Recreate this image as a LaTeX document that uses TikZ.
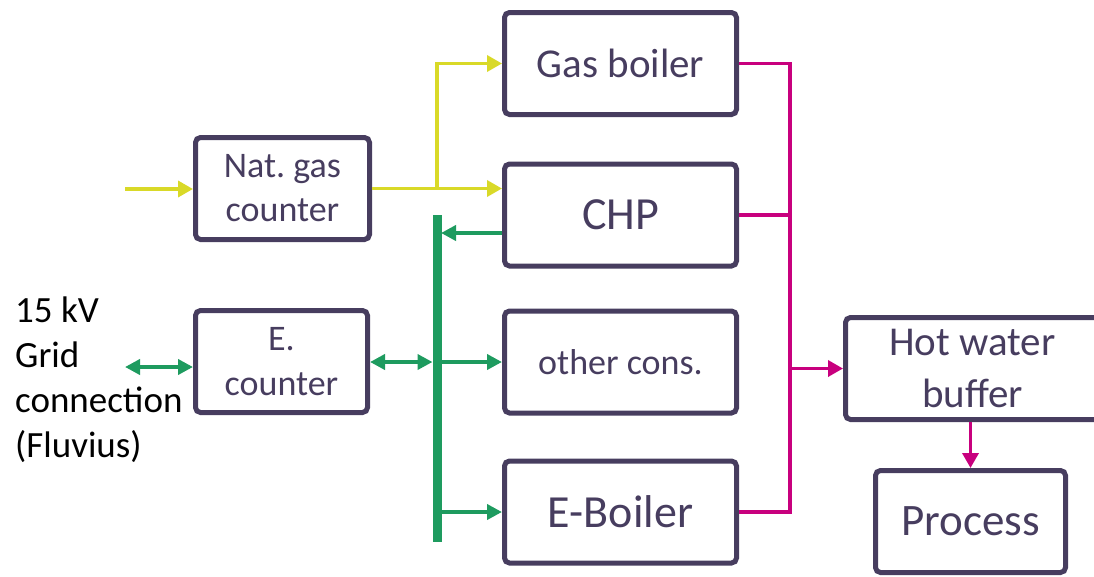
\documentclass[tikz,border=0pt]{standalone}
\usepackage{fontspec}
\setmainfont{Carlito}
\usetikzlibrary{arrows.meta}
\definecolor{boxc}{HTML}{473D5F}
\definecolor{grnc}{HTML}{1E9B5F}
\definecolor{yelc}{HTML}{D9D928}
\definecolor{magc}{HTML}{C8007E}
\tikzset{
  blk/.style={draw=boxc, line width=5pt, rounded corners=5pt, inner sep=0pt,
    text=boxc, align=center, minimum height=102pt},
  yel/.style={draw=yelc, line width=3.5pt, -{Triangle[length=15pt,width=16pt]}},
  grn/.style={draw=grnc, line width=4pt, -{Triangle[length=15pt,width=15pt]}},
  grnboth/.style={draw=grnc, line width=4pt, {Triangle[length=15pt,width=15pt]}-{Triangle[length=15pt,width=15pt]}},
  busline/.style={draw=grnc, line width=9pt},
  mag/.style={draw=magc, line width=3.5pt},
  magarr/.style={draw=magc, line width=3.5pt, -{Triangle[length=15pt,width=16pt]}},
}
\begin{document}
\begin{tikzpicture}[x=1pt,y=-1pt]
\useasboundingbox (0,0) rectangle (1094,576);
\clip (0,0) rectangle (1094,576);

% boxes
\node[blk, minimum width=174pt, font=\fontsize{36}{44}\selectfont] (nat) at (282.5,188.5) {Nat.\ gas\\counter};
\node[blk, minimum width=172pt, font=\fontsize{36}{45}\selectfont] (ecnt) at (281.5,361.5) {E.\\counter};
\node[blk, minimum width=232pt, font=\fontsize{41}{48}\selectfont] (gasb) at (620.5,63.5) {Gas boiler};
\node[blk, minimum width=232pt, font=\fontsize{46}{54}\selectfont] (chp) at (620.5,215) {CHP};
\node[blk, minimum width=232pt, font=\fontsize{36}{44}\selectfont] (other) at (620.5,362) {other cons.};
\node[blk, minimum width=232pt, font=\fontsize{46}{54}\selectfont] (eboil) at (620.5,512) {E-Boiler};
\node[blk, minimum width=254pt, font=\fontsize{41}{52}\selectfont] (buf) at (972.5,368.5) {Hot water\\buffer};
\node[blk, minimum width=190pt, font=\fontsize{45}{54}\selectfont] (proc) at (970.5,521.5) {Process};

% grid label
\node[anchor=base west, inner sep=0pt, align=left, text=black,
  font=\fontsize{37}{45}\selectfont] (grid) at (15,457) {15 kV\\Grid\\connection\\(Fluvius)};

% gas
\coordinate (gin) at (125,189);
\coordinate (gj) at (437,188.5);
\draw[yel] (gin) -- (nat.west |- gin);
\draw[yel] (nat.east) -- (chp.west |- nat.east);
\draw[yel] (gj) |- (gasb.west);

% electricity bus
\coordinate (btop) at (437,215);
\coordinate (bbot) at (437,542);
\draw[busline] (btop) -- (bbot);
\coordinate (bchp) at (441,233);
\draw[grn] (chp.west |- bchp) -- (bchp);
\coordinate (bl) at (432.5,362);
\coordinate (br) at (441.5,362);
\coordinate (be) at (441.5,512);
\draw[grnboth] (ecnt.east |- bl) -- (bl);
\draw[grn] (br) -- (other.west |- br);
\draw[grn] (be) -- (eboil.west);
\coordinate (gin2) at (125,367);
\draw[grnboth] (gin2) -- (ecnt.west |- gin2);

% heat
\coordinate (mtop) at (790,63.5);
\coordinate (mbot) at (790,512);
\draw[mag] (gasb.east) -- (mtop) -- (mbot) -- (eboil.east);
\draw[mag] (chp.east) -- (chp.east -| mtop);
\draw[magarr] (mtop |- buf.west) -- (buf.west);
\draw[magarr] (proc.north |- buf.south) -- (proc.north);
\end{tikzpicture}
\end{document}
